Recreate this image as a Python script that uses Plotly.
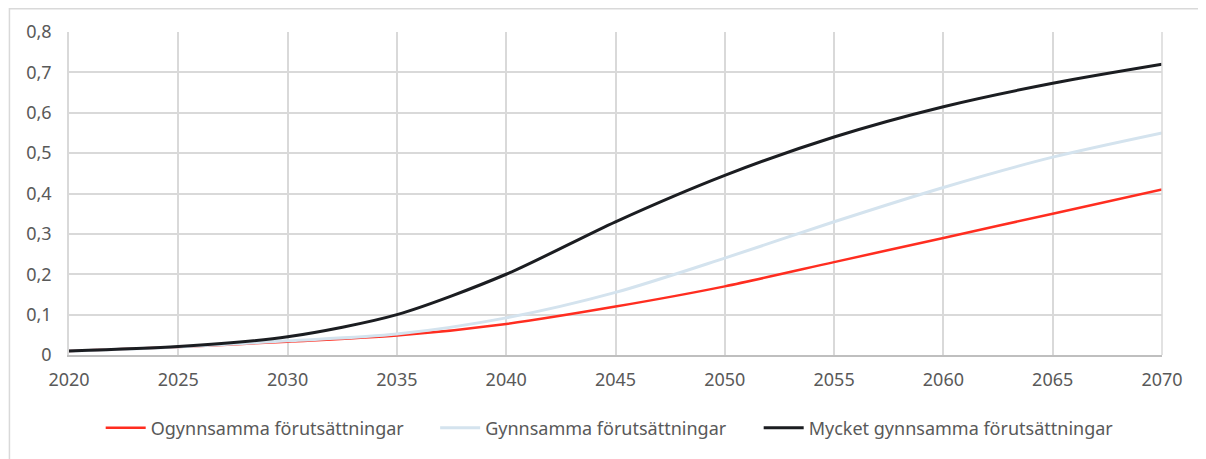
import plotly.graph_objects as go

years = [2020, 2025, 2030, 2035, 2040, 2045, 2050, 2055, 2060, 2065, 2070]

ogynnsamma = [0.010, 0.020, 0.033, 0.048, 0.077, 0.120, 0.170, 0.230, 0.290, 0.350, 0.410]
gynnsamma = [0.010, 0.020, 0.035, 0.052, 0.092, 0.155, 0.240, 0.330, 0.415, 0.490, 0.550]
mycket_gynnsamma = [0.010, 0.021, 0.045, 0.100, 0.200, 0.330, 0.445, 0.540, 0.615, 0.673, 0.720]

x_ticks = list(range(2020, 2071, 5))
y_ticks = [round(i * 0.1, 1) for i in range(9)]
y_labels = ["0" if v == 0 else f"{v:.1f}".replace(".", ",") for v in y_ticks]

# name, values, colour, line width, legend id, legend x (paper)
series = [
    ("Ogynnsamma förutsättningar", ogynnsamma, "#FF2D20", 2.5, "legend", 0.029),
    ("Gynnsamma förutsättningar", gynnsamma, "#D4E3EE", 3, "legend2", 0.335),
    ("Mycket gynnsamma förutsättningar", mycket_gynnsamma, "#1B1D21", 3, "legend3", 0.631),
]

fig = go.Figure()

for name, values, color, width, legend_id, _ in series:
    fig.add_trace(
        go.Scatter(
            x=years,
            y=values,
            mode="lines",
            name=name,
            legend=legend_id,
            line=dict(color=color, width=width, shape="spline", smoothing=0.8),
        )
    )

font_family = "Noto Sans, sans-serif"

legend_style = dict(
    orientation="h",
    xanchor="left",
    y=-0.226,
    yanchor="middle",
    font=dict(size=18, color="#595959"),
    itemwidth=40,
    bgcolor="rgba(0,0,0,0)",
)

fig.update_layout(
    width=1206,
    height=459,
    margin=dict(l=61, r=52, t=24, b=112),
    paper_bgcolor="white",
    plot_bgcolor="white",
    font=dict(family=font_family, size=18, color="#595959"),
    showlegend=True,
    xaxis=dict(
        range=[2020, 2070],
        tickvals=x_ticks,
        showgrid=True,
        gridcolor="#D9D9D9",
        gridwidth=1.5,
        zeroline=False,
        showline=True,
        linecolor="#BFBFBF",
        linewidth=1.5,
        ticks="",
        ticklabelstandoff=8,
    ),
    yaxis=dict(
        range=[0, 0.8],
        tickvals=y_ticks,
        ticktext=y_labels,
        showgrid=True,
        gridcolor="#D9D9D9",
        gridwidth=1.5,
        zeroline=False,
        showline=True,
        linecolor="#D9D9D9",
        linewidth=1.5,
        ticks="",
        ticklabelstandoff=12,
    ),
)

for _, _, _, _, legend_id, lx in series:
    fig.update_layout({legend_id: dict(legend_style, x=lx)})

# right edge of plot area and outer frame
fig.add_shape(type="line", xref="paper", yref="paper", x0=1, x1=1, y0=0, y1=1,
              line=dict(color="#D9D9D9", width=1.5))
fig.add_shape(type="rect", xref="paper", yref="paper", x0=-0.0545, x1=1.1, y0=-0.5, y1=1.072,
              line=dict(color="#D9D9D9", width=1.5), layer="below")

fig.write_html("out.html")
